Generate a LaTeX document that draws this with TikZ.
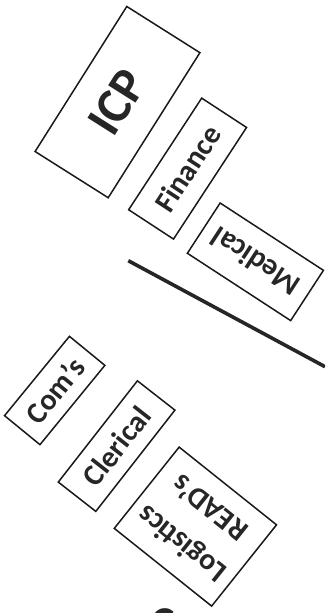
\documentclass[tikz,border=0pt]{standalone}
\usepackage{fontspec}
\setmainfont{Carlito}
\begin{document}
\begin{tikzpicture}[x=1pt,y=-1pt,
  box/.style={draw=black!90, line width=1.5pt, inner sep=0pt, align=center,
    font=\bfseries\fontsize{30}{34}\selectfont, text=black!85},
  bigbox/.style={box, font=\bfseries\fontsize{50}{56}\selectfont},
  divider/.style={line width=3.6pt, draw=black!85}]
\useasboundingbox (0,0) rectangle (325,613);
\begin{scope}
\clip (0,0) rectangle (325,613);
\node[bigbox, minimum width=171.6pt, minimum height=86.5pt, rotate=57.7] (icp) at (117.5,102.1) {ICP};
\node[box, minimum width=133.4pt, minimum height=53.6pt, rotate=56.8] (fin) at (187.6,168.6) {Finance};
\node[box, minimum width=123.3pt, minimum height=60pt, rotate=146.9] (med) at (255.4,261.8) {Medical};
\node[box, minimum width=102.5pt, minimum height=45.8pt, rotate=50.7] (com) at (54.7,390.5) {Com’s};
\node[box, minimum width=128.5pt, minimum height=47.6pt, rotate=52] (cler) at (116.6,446.1) {Clerical};
\node[box, minimum width=124.6pt, minimum height=104pt, rotate=141.4,
  font=\bfseries\fontsize{30}{46}\selectfont] (log) at (195.4,526.6) {Logistics\\READ’s};
\coordinate (la) at (128.3,260.7);
\coordinate (lb) at (325,366.7);
\draw[divider] (la) -- (lb);
\node[font=\bfseries\fontsize{44}{50}\selectfont, text=black!85, anchor=base, inner sep=0pt] (cc) at (163,637) {C};
\end{scope}
\end{tikzpicture}
\end{document}
